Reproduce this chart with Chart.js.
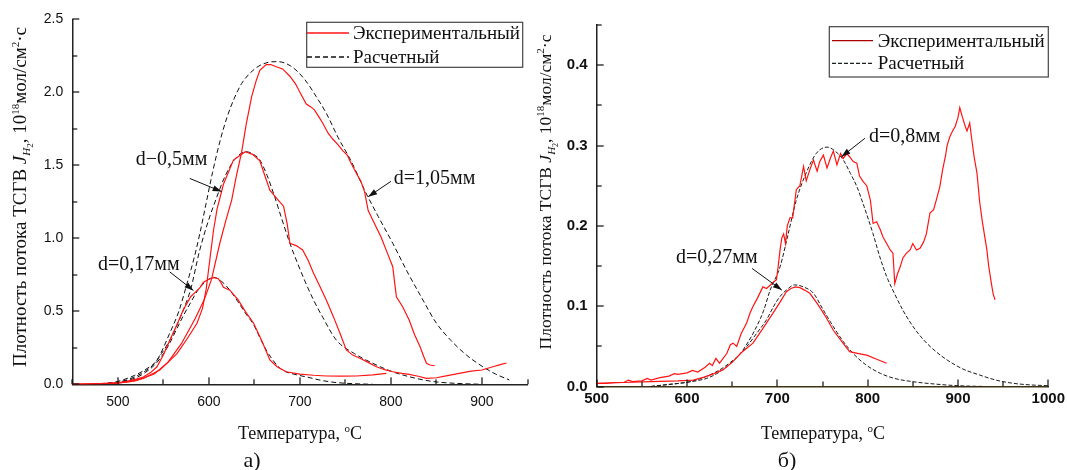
<!DOCTYPE html>
<html lang="ru">
<head>
<meta charset="utf-8">
<script src="https://cdn.jsdelivr.net/npm/chart.js@4.4.1/dist/chart.umd.min.js"></script>
<style>
  html, body { margin: 0; padding: 0; background: #fff; }
  #wrap { position: relative; width: 1067px; height: 470px; overflow: hidden; }
  #chartA { position: absolute; left: 0; top: 0; }
  #chartB { position: absolute; left: 530px; top: 0; }
</style>
</head>
<body>
<div id="wrap">
  <canvas id="chartA" width="530" height="470"></canvas>
  <canvas id="chartB" width="537" height="470"></canvas>
</div>
<script>
// ---- панель а): T, °C -> J, 10^18 мол/см2·с ----
const xTicksA = [450, 500, 550, 600, 650, 700, 750, 800, 850, 900, 950];
const xLabelsA = [500, 600, 700, 800, 900];
const yTicksA = [0, 0.25, 0.5, 0.75, 1.0, 1.25, 1.5, 1.75, 2.0, 2.25, 2.5];
const yLabelsA = [0, 0.5, 1.0, 1.5, 2.0, 2.5];

const expA017 = [[450,0],[470,0.002],[490,0.006],[500,0.01],[510,0.02],[520,0.035],[528,0.05],[536,0.08],[543,0.12],[550,0.2],[557,0.3],[565,0.41],[572,0.51],[580,0.6],[585,0.63],[590,0.66],[594,0.7],[600,0.72],[605,0.73],[610,0.725],[613,0.7],[616,0.665],[623,0.645],[632,0.58],[640,0.5],[649,0.42],[658,0.3],[667,0.167],[675,0.12],[685,0.086],[700,0.07],[715,0.062],[729,0.057],[745,0.056],[762,0.057],[780,0.065],[795,0.075]];
const expA05 = [[450,0],[480,0.005],[500,0.01],[515,0.02],[528,0.04],[546,0.098],[555,0.15],[565,0.21],[576,0.31],[587,0.418],[593,0.52],[597,0.65],[601,0.85],[605,1.05],[609,1.2],[616,1.37],[627,1.536],[640,1.593],[648,1.575],[656,1.53],[662,1.42],[667,1.33],[675,1.27],[682,1.22],[686,1.1],[689,0.966],[696,0.95],[703,0.92],[709,0.85],[715,0.76],[722,0.67],[729,0.577],[737,0.46],[744,0.35],[751,0.235],[758,0.2],[766,0.178],[775,0.15],[784,0.12],[793,0.1],[802,0.086],[812,0.075],[820,0.068],[830,0.055],[839,0.041],[850,0.045],[862,0.06],[875,0.075],[888,0.09],[900,0.098],[912,0.12],[920,0.135],[927,0.146]];
const expA105 = [[450,0],[480,0.003],[500,0.008],[520,0.025],[540,0.07],[555,0.15],[570,0.28],[585,0.45],[595,0.58],[603,0.72],[612,0.966],[619,1.13],[625,1.26],[630,1.42],[636,1.59],[641,1.78],[647,1.97],[652,2.08],[656,2.15],[663,2.19],[668,2.19],[674,2.175],[681,2.16],[689,2.11],[695,2.06],[700,2.0],[707,1.92],[712,1.9],[716,1.88],[721,1.83],[725,1.79],[731,1.72],[736,1.68],[742,1.64],[747,1.6],[752,1.57],[755,1.53],[762,1.445],[767,1.39],[771,1.32],[775,1.19],[782,1.1],[789,1.01],[796,0.9],[802,0.805],[804,0.7],[806,0.6],[813,0.53],[820,0.44],[826,0.34],[832,0.257],[836,0.19],[839,0.144],[843,0.132],[848,0.127]];

const calcA017 = [[470,0],[490,0.005],[500,0.012],[510,0.025],[520,0.045],[530,0.08],[540,0.13],[548,0.19],[556,0.27],[564,0.37],[572,0.47],[580,0.56],[588,0.645],[596,0.7],[605,0.733],[614,0.705],[623,0.645],[632,0.565],[641,0.48],[649,0.41],[656,0.32],[663,0.235],[671,0.16],[680,0.1],[690,0.075],[700,0.06],[711,0.045],[725,0.025],[740,0.012],[760,0.004],[780,0]];
const calcA05 = [[470,0],[490,0.006],[500,0.015],[510,0.03],[520,0.055],[530,0.09],[540,0.14],[548,0.21],[556,0.29],[564,0.39],[572,0.51],[580,0.65],[590,0.92],[600,1.13],[608,1.27],[616,1.4],[625,1.51],[633,1.57],[641,1.593],[649,1.575],[656,1.536],[664,1.43],[672,1.29],[680,1.135],[689,0.966],[698,0.82],[706,0.7],[715,0.577],[725,0.46],[740,0.303],[760,0.21],[780,0.144],[800,0.09],[820,0.052],[845,0.02],[870,0.007],[900,0]];
const calcA105 = [[480,0.003],[500,0.02],[518,0.06],[530,0.1],[543,0.166],[557,0.35],[567,0.5],[576,0.69],[584,0.87],[590,1.03],[597,1.24],[604,1.45],[612,1.66],[620,1.83],[628,1.96],[636,2.06],[645,2.13],[655,2.18],[665,2.205],[675,2.21],[690,2.18],[705,2.09],[718,1.97],[729,1.856],[742,1.69],[757,1.52],[771,1.33],[786,1.15],[802,0.966],[818,0.77],[834,0.59],[850,0.418],[866,0.3],[883,0.2],[901,0.12],[915,0.07],[930,0.03]];

// ---- панель б) ----
const xTicksB = [500, 550, 600, 650, 700, 750, 800, 850, 900, 950, 1000];
const xLabelsB = [500, 600, 700, 800, 900, 1000];
const yTicksB = [0, 0.05, 0.1, 0.15, 0.2, 0.25, 0.3, 0.35, 0.4, 0.45];
const yLabelsB = [0, 0.1, 0.2, 0.3, 0.4];

const expB027 = [[500,0.004],[530,0.005],[560,0.006],[590,0.007],[607,0.008],[620,0.012],[630,0.016],[640,0.021],[650,0.03],[660,0.042],[673,0.054],[685,0.074],[695,0.091],[703,0.105],[710,0.118],[715,0.122],[720,0.124],[725,0.123],[730,0.12],[736,0.116],[745,0.102],[753,0.088],[762,0.07],[770,0.058],[780,0.0434],[790,0.041],[799,0.039],[810,0.034],[821,0.029]];
const expB08 = [[500,0.004],[510,0.004],[520,0.005],[530,0.005],[535,0.008],[540,0.006],[550,0.007],[556,0.01],[560,0.008],[570,0.011],[580,0.013],[586,0.016],[590,0.015],[600,0.017],[606,0.02],[612,0.018],[620,0.024],[625,0.029],[628,0.026],[632,0.035],[636,0.029],[644,0.041],[648,0.052],[651,0.054],[655,0.05],[660,0.066],[666,0.079],[670,0.092],[673,0.0995],[678,0.11],[684,0.124],[688,0.122],[692,0.126],[696,0.13],[699,0.133],[701,0.15],[703,0.17],[705,0.185],[707,0.19],[709,0.178],[711,0.2],[714,0.21],[717,0.21],[721,0.245],[725,0.25],[729,0.274],[732,0.256],[736,0.27],[740,0.282],[744,0.268],[747,0.28],[751,0.288],[755,0.272],[759,0.285],[762,0.293],[766,0.276],[770,0.29],[773,0.284],[777,0.29],[780,0.286],[784,0.28],[788,0.278],[791,0.262],[795,0.255],[799,0.25],[803,0.232],[806,0.203],[810,0.205],[814,0.195],[817,0.186],[821,0.178],[825,0.17],[828,0.166],[830,0.128],[833,0.14],[836,0.149],[839,0.16],[843,0.166],[847,0.17],[850,0.178],[854,0.17],[858,0.172],[862,0.18],[865,0.19],[869,0.216],[873,0.22],[876,0.232],[880,0.249],[883,0.27],[886,0.286],[888,0.3],[891,0.311],[894,0.318],[897,0.324],[900,0.335],[902,0.347],[905,0.335],[908,0.324],[910,0.318],[913,0.328],[915,0.31],[918,0.285],[921,0.266],[924,0.23],[927,0.205],[932,0.17],[934,0.15],[937,0.128],[939,0.115],[941,0.108]];

const calcB027 = [[560,0],[592,0.004],[610,0.007],[622,0.0102],[633,0.016],[644,0.0247],[655,0.036],[666,0.0496],[677,0.066],[688,0.083],[696,0.1],[703,0.112],[711,0.121],[719,0.1265],[729,0.124],[740,0.116],[750,0.097],[762,0.0745],[773,0.056],[784,0.041],[798,0.027],[814,0.0164],[830,0.01],[850,0.006],[875,0.003],[900,0.001],[930,0]];
const calcB08 = [[560,0],[574,0.002],[603,0.006],[620,0.012],[636,0.0206],[648,0.03],[659,0.041],[668,0.056],[677,0.0745],[685,0.095],[692,0.12],[703,0.149],[712,0.19],[721,0.232],[732,0.266],[743,0.29],[755,0.298],[764,0.293],[773,0.282],[781,0.265],[788,0.249],[796,0.224],[806,0.19],[813,0.163],[821,0.137],[830,0.115],[839,0.095],[850,0.075],[862,0.058],[875,0.044],[888,0.033],[905,0.022],[924,0.0143],[942,0.008],[961,0.004],[980,0.002],[1000,0.001]];

const SERIF = "'Liberation Serif', 'Times New Roman', serif";
const SANS = "'Liberation Sans', Arial, sans-serif";

const pts = arr => arr.map(([x, y]) => ({ x, y }));
const near = (list, v) => list.some(t => Math.abs(t - v) < 1e-9);

function expSet(arr, color) {
  return { label: 'Экспериментальный', data: pts(arr), borderColor: color, borderWidth: 1.2,
           pointRadius: 0, tension: 0, fill: false };
}
function calcSet(arr, color, dash) {
  return { label: 'Расчетный', data: pts(arr), borderColor: color, borderWidth: 1,
           borderDash: dash, pointRadius: 0, cubicInterpolationMode: 'monotone', fill: false };
}

function font(p) {
  return (p.i ? 'italic ' : '') + (p.b ? 'bold ' : '') + p.s + 'px ' + SERIF;
}
function drawRich(ctx, parts, cx, cy, rot) {
  ctx.save();
  ctx.translate(cx, cy);
  if (rot) ctx.rotate(rot);
  let w = 0;
  parts.forEach(p => { ctx.font = font(p); w += ctx.measureText(p.t).width; });
  let x = -w / 2;
  const base = parts[0].s * 0.33;
  ctx.textAlign = 'left';
  ctx.textBaseline = 'alphabetic';
  ctx.fillStyle = '#111';
  parts.forEach(p => {
    ctx.font = font(p);
    ctx.fillText(p.t, x, base + (p.dy || 0));
    x += ctx.measureText(p.t).width;
  });
  ctx.restore();
}
function arrow(ctx, x1, y1, x2, y2) {
  ctx.beginPath(); ctx.moveTo(x1, y1); ctx.lineTo(x2, y2); ctx.stroke();
  const a = Math.atan2(y2 - y1, x2 - x1), L = 9, W = 3;
  ctx.beginPath();
  ctx.moveTo(x2, y2);
  ctx.lineTo(x2 - L * Math.cos(a) + W * Math.sin(a), y2 - L * Math.sin(a) - W * Math.cos(a));
  ctx.lineTo(x2 - L * Math.cos(a) - W * Math.sin(a), y2 - L * Math.sin(a) + W * Math.cos(a));
  ctx.closePath(); ctx.fill();
}

const xTickSets = [xTicksA, xTicksB], xLabelSets = [xLabelsA, xLabelsB];
const yTickSets = [yTicksA, yTicksB], yLabelSets = [yLabelsA, yLabelsB];

// засечки внутрь, подписи осей, легенда и стрелки с d=...
const decor = {
  id: 'decor',
  afterDraw(chart, args, o) {
    const { ctx, chartArea: area, scales: { x, y } } = chart;
    const k = o.panelIndex || 0;
    const L = area.left, B = area.bottom;

    ctx.save();
    ctx.fillStyle = '#111';
    xTickSets[k].forEach(v => {
      const px = Math.round(x.getPixelForValue(v));
      const len = near(xLabelSets[k], v) ? 7 : 5;
      ctx.fillRect(px - 0.6, B - len, 1.2, len);
    });
    yTickSets[k].forEach(v => {
      const py = Math.round(y.getPixelForValue(v));
      const len = near(yLabelSets[k], v) ? 7 : 5;
      ctx.fillRect(L, py - 0.6, len, 1.2);
    });
    ctx.restore();

    drawRich(ctx, o.yTitle, o.yTitleAt[0], o.yTitleAt[1], -Math.PI / 2);
    drawRich(ctx, o.xTitle, o.xTitleAt[0], o.xTitleAt[1]);
    drawRich(ctx, [{ t: o.panel, s: 22 }], o.panelAt[0], o.panelAt[1]);

    ctx.save();
    ctx.strokeStyle = '#111'; ctx.fillStyle = '#111'; ctx.lineWidth = 1;
    o.notes.forEach(n => {
      drawRich(ctx, [{ t: n.text, s: 20 }], x.getPixelForValue(n.at[0]), y.getPixelForValue(n.at[1]));
      arrow(ctx, x.getPixelForValue(n.from[0]), y.getPixelForValue(n.from[1]),
                 x.getPixelForValue(n.to[0]), y.getPixelForValue(n.to[1]));
    });
    ctx.restore();

    const lg = o.legend;
    ctx.save();
    ctx.fillStyle = '#fff';
    ctx.fillRect(lg.x, lg.y, lg.w, lg.h);
    ctx.strokeStyle = '#444'; ctx.lineWidth = 1.2;
    ctx.strokeRect(lg.x, lg.y, lg.w, lg.h);
    const seen = [];
    chart.data.datasets.forEach(ds => { if (!seen.find(s => s.label === ds.label)) seen.push(ds); });
    seen.forEach((ds, i) => {
      const ry = lg.rows[i];
      ctx.strokeStyle = lg.colors ? lg.colors[i] : ds.borderColor;
      ctx.lineWidth = 1.3;
      ctx.setLineDash(ds.borderDash || []);
      ctx.beginPath(); ctx.moveTo(lg.line[0], ry); ctx.lineTo(lg.line[1], ry); ctx.stroke();
      ctx.setLineDash([]);
      ctx.fillStyle = '#111';
      ctx.font = lg.size + 'px ' + SERIF;
      ctx.textAlign = 'left'; ctx.textBaseline = 'middle';
      ctx.fillText(ds.label, lg.textX, ry + 1);
    });
    ctx.restore();
  }
};

function axisX(min, max, list, labels, tickFont, pad, h, borderColor) {
  return {
    type: 'linear', min, max,
    afterBuildTicks: s => { s.ticks = list.map(v => ({ value: v })); },
    afterFit: s => { s.height = h; s.paddingLeft = 0; s.paddingRight = 0; },
    ticks: { autoSkip: false, maxRotation: 0, padding: pad, color: '#111', font: tickFont,
             callback: v => near(labels, v) ? String(v) : '' },
    grid: { display: false, drawTicks: false },
    border: { display: true, color: borderColor, width: 1.5 }
  };
}
function axisY(min, max, list, labels, tickFont, pad, w) {
  return {
    type: 'linear', min, max,
    afterBuildTicks: s => { s.ticks = list.map(v => ({ value: v })); },
    afterFit: s => { s.width = w; s.paddingTop = 0; s.paddingBottom = 0; },
    ticks: { autoSkip: false, padding: pad, color: '#111', font: tickFont,
             callback: v => near(labels, v) ? v.toFixed(1) : '' },
    grid: { display: false, drawTicks: false },
    border: { display: true, color: '#222', width: 1.5 }
  };
}

const yTitleParts = s => [
  { t: 'Плотность потока ТСГВ ', s }, { t: 'J', s, i: true },
  { t: 'H', s: Math.round(s * 0.6), i: true, dy: 4 }, { t: '2', s: Math.round(s * 0.45), dy: 7 },
  { t: ', 10', s }, { t: '18', s: Math.round(s * 0.6), dy: -7 },
  { t: 'мол/см', s }, { t: '2', s: Math.round(s * 0.6), dy: -7 }, { t: '·с', s }
];
const xTitleParts = [{ t: 'Температура, ', s: 18 }, { t: 'o', s: 11, dy: -7 }, { t: 'C', s: 18 }];

const RED = '#ff1414';

new Chart(document.getElementById('chartA'), {
  type: 'line',
  data: {
    datasets: [
      expSet(expA017, RED), expSet(expA05, RED), expSet(expA105, RED),
      calcSet(calcA017, '#111', [5, 3]), calcSet(calcA05, '#111', [5, 3]), calcSet(calcA105, '#111', [5, 3])
    ]
  },
  options: {
    responsive: false, animation: false,
    layout: { autoPadding: false, padding: { left: 0, top: 19.3, right: 2.5, bottom: 0 } },
    scales: {
      x: axisX(450, 950, xTicksA, xLabelsA, { family: SANS, size: 14 }, 9, 85.7, '#222'),
      y: axisY(0, 2.5, yTicksA, yLabelsA, { family: SANS, size: 14 }, 9, 72.3)
    },
    plugins: {
      legend: { display: false }, tooltip: { enabled: false },
      decor: {
        panelIndex: 0,
        yTitle: yTitleParts(19), yTitleAt: [20, 197],
        xTitle: xTitleParts, xTitleAt: [300, 433],
        panel: 'а)', panelAt: [252, 460],
        notes: [
          { text: 'd=0,17мм', at: [523, 0.83], from: [557, 0.77], to: [583, 0.643] },
          { text: 'd−0,5мм', at: [559, 1.55], from: [579, 1.41], to: [614, 1.32] },
          { text: 'd=1,05мм', at: [848, 1.42], from: [800, 1.39], to: [775, 1.285] }
        ],
        legend: { x: 306.7, y: 22.3, w: 216, h: 45, rows: [33, 57], line: [307, 349], textX: 353, size: 19 }
      }
    }
  },
  plugins: [decor]
});

new Chart(document.getElementById('chartB'), {
  type: 'line',
  data: {
    datasets: [
      expSet(expB027, RED), expSet(expB08, RED),
      calcSet(calcB027, '#1a1f1f', [4, 2]), calcSet(calcB08, '#1a1f1f', [4, 2])
    ]
  },
  options: {
    responsive: false, animation: false,
    layout: { autoPadding: false, padding: { left: 0, top: 25, right: 18.7, bottom: 0 } },
    scales: {
      x: axisX(500, 1000, xTicksB, xLabelsB, { family: SANS, size: 15, weight: 'bold' }, 3, 83.5, '#3d3314'),
      y: axisY(0, 0.45, yTicksB, yLabelsB, { family: SANS, size: 15, weight: 'bold' }, 9, 66.7)
    },
    plugins: {
      legend: { display: false }, tooltip: { enabled: false },
      decor: {
        panelIndex: 1,
        yTitle: yTitleParts(17.5), yTitleAt: [15, 192],
        xTitle: xTitleParts, xTitleAt: [293, 433],
        panel: 'б)', panelAt: [257, 460],
        notes: [
          { text: 'd=0,8мм', at: [841, 0.313], from: [797, 0.309], to: [771, 0.286] },
          { text: 'd=0,27мм', at: [633, 0.162], from: [672, 0.147], to: [705, 0.12] }
        ],
        legend: { x: 299.3, y: 26.7, w: 219, h: 50.3, rows: [40.7, 63.3], line: [302, 343], textX: 347.7, size: 19,
                  colors: ['#a80000', '#1a1f1f'] }
      }
    }
  },
  plugins: [decor]
});
</script>
</body>
</html>
